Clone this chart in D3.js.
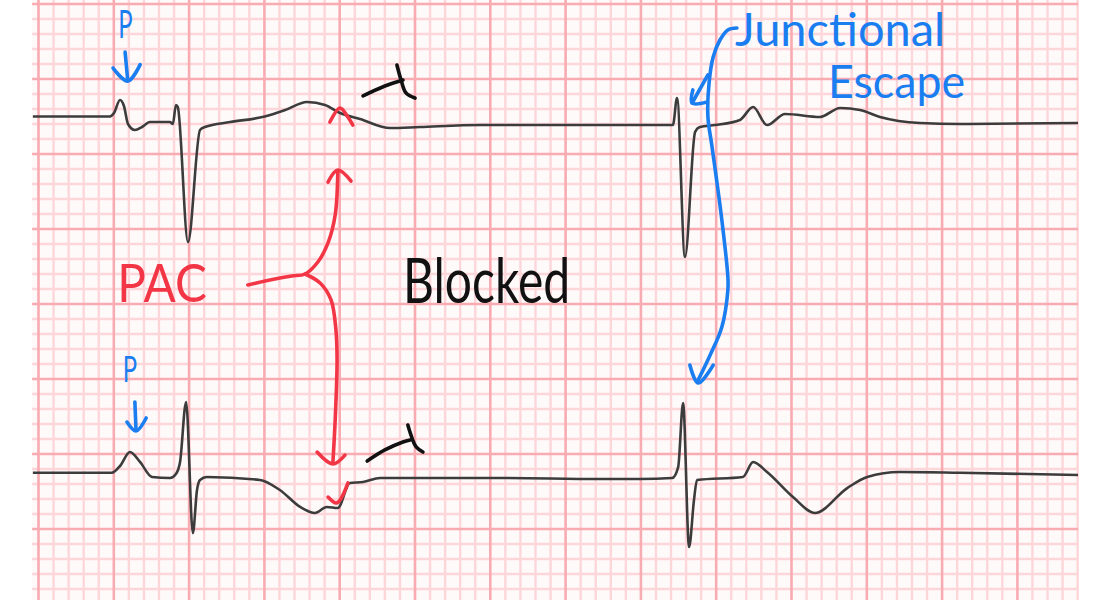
<!DOCTYPE html>
<html>
<head>
<meta charset="utf-8">
<script src="https://cdn.jsdelivr.net/npm/d3@7"></script>
<style>
  html, body { margin: 0; padding: 0; background: #fff; }
  svg { display: block; }
</style>
</head>
<body>
<main></main>
<script>
const width = 1110;
const height = 600;

// strip extent, seconds (x) and mV (y)
const gridTime = [-0.017, 2.761];
const gridVolt = [0.013, 4.027];
const minorTime = 0.04, minorVolt = 0.1;

// two rhythm strips: [seconds, mV above own baseline]
const topBaseline = 3.25;
const topTrace = [
  [-0.015, 0], [0.190, 0], [0.2005, 0.023], [0.2165, 0.11], [0.227, 0.07],
  [0.2377, -0.05], [0.256, -0.09], [0.275, -0.07], [0.296, -0.037], [0.349, -0.037],
  [0.357, -0.05], [0.365, 0.077], [0.370, 0.063], [0.397, -0.837], [0.429, -0.09],
  [0.442, -0.07], [0.509, -0.037], [0.601, 0], [0.655, 0.043], [0.713, 0.097],
  [0.761, 0.077], [0.801, 0.023], [0.854, -0.017], [0.934, -0.077], [1.013, -0.07],
  [1.173, -0.057], [1.685, -0.057], [1.696, 0.123], [1.717, -0.937], [1.744, -0.103],
  [1.757, -0.07], [1.797, -0.057], [1.863, -0.023], [1.898, 0.063], [1.935, -0.057],
  [1.983, 0.017], [2.076, -0.003], [2.129, 0.057], [2.182, 0.043], [2.235, -0.003],
  [2.341, -0.043], [2.448, -0.05], [2.761, -0.043]
];

const bottomBaseline = 0.875;
const bottomTrace = [
  [-0.015, 0], [0.195, 0], [0.2165, 0.045], [0.243, 0.138], [0.2695, 0.072],
  [0.3015, -0.028], [0.349, -0.035], [0.365, -0.008], [0.376, 0.072], [0.392, 0.472],
  [0.410, -0.402], [0.421, -0.115], [0.429, -0.048], [0.447, -0.028], [0.588, -0.048],
  [0.641, -0.115], [0.695, -0.228], [0.734, -0.268], [0.766, -0.228], [0.795, -0.235],
  [0.827, -0.068], [0.862, -0.062], [0.907, -0.035], [1.226, -0.035], [1.491, -0.042],
  [1.598, -0.042], [1.683, -0.035], [1.699, 0.038], [1.712, 0.465], [1.728, -0.495],
  [1.741, -0.182], [1.749, -0.048], [1.871, -0.028], [1.898, 0.072], [1.935, 0.005],
  [2.004, -0.162], [2.062, -0.268], [2.148, -0.102], [2.201, -0.028], [2.288, 0.005],
  [2.448, 0], [2.761, -0.015]
];

// hand-drawn annotation strokes, [seconds, mV] on the page frame
const blue = "#1b7ef0", red = "#f23645", ink = "#111";
const strokes = [
  {color: blue, pts: [[0.230, 3.68], [0.237, 3.493]]},
  {color: blue, pts: [[0.198, 3.573], [0.237, 3.486], [0.270, 3.596]]},
  {color: blue, pts: [[0.256, 1.347], [0.259, 1.16]]},
  {color: blue, pts: [[0.235, 1.213], [0.259, 1.153], [0.286, 1.24]]},
  {color: red, pts: [[0.556, 2.127], [0.628, 2.167], [0.673, 2.187], [0.708, 2.2],
                     [0.742, 2.28], [0.769, 2.407], [0.788, 2.593], [0.795, 2.88]]},
  {color: red, pts: [[0.769, 2.813], [0.795, 2.893], [0.830, 2.82]]},
  {color: red, pts: [[0.708, 2.2], [0.748, 2.14], [0.777, 2.027], [0.790, 1.827],
                     [0.793, 1.627], [0.788, 1.227], [0.782, 0.947]]},
  {color: red, pts: [[0.740, 1.013], [0.782, 0.933], [0.814, 0.993]]},
  {color: red, pts: [[0.774, 3.213], [0.801, 3.307], [0.820, 3.253], [0.835, 3.193]]},
  {color: red, pts: [[0.769, 0.713], [0.790, 0.673], [0.801, 0.693], [0.822, 0.807]]},
  {color: ink, pts: [[0.862, 3.387], [0.920, 3.453], [0.968, 3.493]]},
  {color: ink, pts: [[0.952, 3.593], [0.963, 3.493], [0.976, 3.407], [1.0, 3.373]]},
  {color: ink, pts: [[0.873, 0.953], [0.920, 1.027], [0.968, 1.08], [0.987, 1.093]]},
  {color: ink, pts: [[0.981, 1.193], [0.992, 1.107], [1.003, 1.047], [1.021, 1.013]]},
  {color: blue, pts: [[1.855, 3.84], [1.831, 3.827], [1.810, 3.76], [1.792, 3.647],
                      [1.781, 3.473], [1.778, 3.247], [1.789, 3.047], [1.815, 2.56],
                      [1.831, 2.18], [1.831, 2.093], [1.815, 1.847], [1.784, 1.66], [1.752, 1.493]]},
  {color: blue, pts: [[1.730, 1.593], [1.752, 1.473], [1.792, 1.593]]},
  {color: blue, pts: [[1.778, 3.527], [1.736, 3.34]]},
  {color: blue, pts: [[1.738, 3.427], [1.736, 3.34], [1.776, 3.347]]}
];

// labels: text, colour, start s, end s, baseline mV, font size
const labels = [
  {text: "P", color: blue, s0: 0.212, s1: 0.250, v: 3.773, size: 38},
  {text: "P", color: blue, s0: 0.224, s1: 0.262, v: 1.48, size: 36},
  {text: "PAC", color: red, s0: 0.209, s1: 0.447, v: 2.013, size: 52},
  {text: "Blocked", color: ink, s0: 0.968, s1: 1.412, v: 2.007, size: 62},
  {text: "Junctional", color: blue, s0: 1.850, s1: 2.408, v: 3.72, size: 46},
  {text: "Escape", color: blue, s0: 2.097, s1: 2.461, v: 3.373, size: 46}
];

const x = d3.scaleLinear().domain([0, 2.6]).range([38.5, 38.5 + 2.6 * 376.5]);
const y = d3.scaleLinear().domain([0, 4]).range([604, 4]);

const svg = d3.select('main').append('svg')
  .attr('width', width)
  .attr('height', height);

svg.append('rect').attr('width', width).attr('height', height).attr('fill', '#fff');

// ECG paper
const grid = svg.append('g').attr('class', 'grid');
const vTicks = d3.range(Math.ceil(gridTime[0] / minorTime), Math.floor(gridTime[1] / minorTime) + 1);
const hTicks = d3.range(Math.ceil(gridVolt[0] / minorVolt), Math.floor(gridVolt[1] / minorVolt) + 1);

grid.append('rect')
  .attr('x', x(gridTime[0]))
  .attr('y', y(gridVolt[1]))
  .attr('width', x(gridTime[1]) - x(gridTime[0]))
  .attr('height', y(gridVolt[0]) - y(gridVolt[1]))
  .style('fill', '#fffafa');

const drawLines = (ticks, major, vertical) => {
  grid.append('g')
    .selectAll('line')
    .data(ticks.filter(k => (k % 5 === 0) === major))
    .enter().append('line')
    .attr('x1', k => vertical ? x(k * minorTime) : x(gridTime[0]))
    .attr('x2', k => vertical ? x(k * minorTime) : x(gridTime[1]))
    .attr('y1', k => vertical ? y(gridVolt[1]) : y(k * minorVolt))
    .attr('y2', k => vertical ? y(gridVolt[0]) : y(k * minorVolt))
    .style('stroke', major ? '#f9abb2' : '#fdd6da')
    .style('stroke-width', major ? 2.6 : 2.4);
};
drawLines(vTicks, false, true);
drawLines(hTicks, false, false);
drawLines(vTicks, true, true);
drawLines(hTicks, true, false);

// traces
const traceLine = base => d3.line()
  .x(d => x(d[0]))
  .y(d => y(base + d[1]))
  .curve(d3.curveMonotoneX);

svg.append('g')
  .selectAll('path')
  .data([[topTrace, topBaseline], [bottomTrace, bottomBaseline]])
  .enter().append('path')
  .attr('d', d => traceLine(d[1])(d[0]))
  .style('fill', 'none')
  .style('stroke', '#3c3c3c')
  .style('stroke-width', 2.6)
  .style('stroke-linejoin', 'round');

// annotations
const penLine = d3.line()
  .x(d => x(d[0]))
  .y(d => y(d[1]))
  .curve(d3.curveCatmullRom.alpha(0.5));

svg.append('g')
  .selectAll('path')
  .data(strokes)
  .enter().append('path')
  .attr('d', d => penLine(d.pts))
  .style('fill', 'none')
  .style('stroke', d => d.color)
  .style('stroke-width', 3.6)
  .style('stroke-linecap', 'round')
  .style('stroke-linejoin', 'round');

svg.append('g')
  .selectAll('text')
  .data(labels)
  .enter().append('text')
  .attr('x', d => x(d.s0))
  .attr('y', d => y(d.v))
  .attr('textLength', d => x(d.s1) - x(d.s0))
  .attr('lengthAdjust', 'spacingAndGlyphs')
  .style('font-family', "Lato, 'Open Sans', sans-serif")
  .style('font-weight', 400)
  .style('font-size', d => d.size + 'px')
  .style('fill', d => d.color)
  .text(d => d.text);
</script>
</body>
</html>
